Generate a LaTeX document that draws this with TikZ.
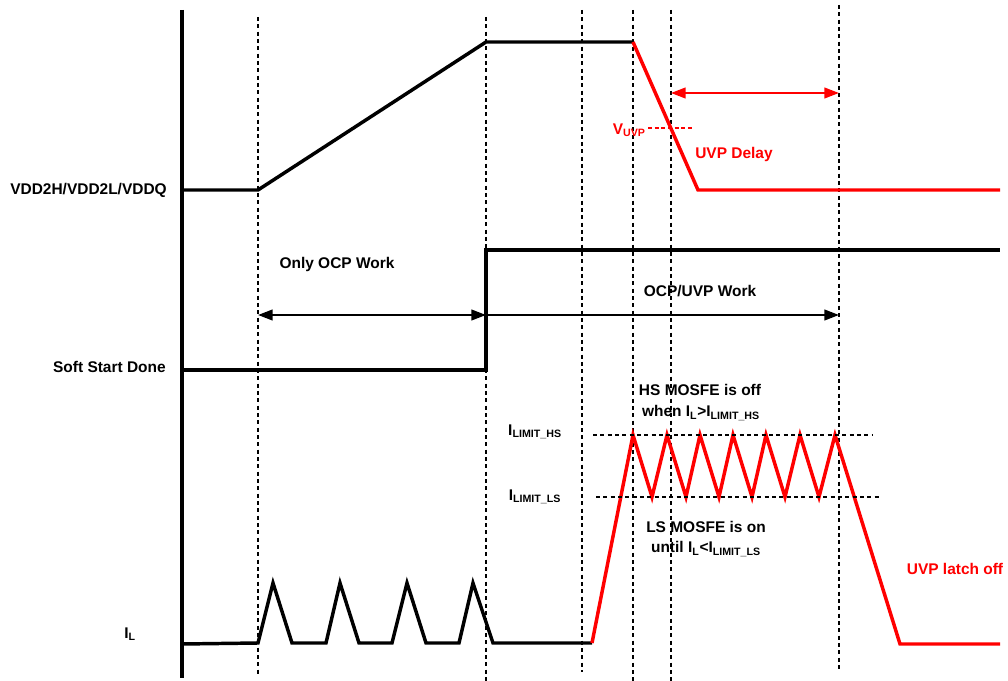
\documentclass[tikz,border=0pt]{standalone}
\usepackage{fontspec}
\setmainfont{Liberation Sans}
\usetikzlibrary{arrows.meta}
\begin{document}
\begin{tikzpicture}[x=0.75pt,y=-0.75pt,
  sig/.style={line width=2.6pt,line join=miter},
  redsig/.style={line width=2.6pt,red,line join=miter},
  guide/.style={line width=1.8pt,dash pattern=on 3pt off 2.5pt},
  lbl/.style={font=\bfseries\fontsize{11.6}{13}\selectfont,inner sep=0pt},
  rlbl/.style={lbl,text=red},
  dbl/.style={line width=1.6pt,{Triangle[length=11pt,width=8pt]}-{Triangle[length=11pt,width=8pt]}}]
\newcommand{\sbs}[1]{\textsubscript{\fontsize{8}{9}\selectfont #1}}
\useasboundingbox (0,0) rectangle (1008,681);
% axis
\draw[line width=2.6pt] (182,10) -- (182,678);
% guides
\draw[guide] (258,17) -- (258,674);
\draw[guide] (486,17) -- (486,681);
\draw[guide] (582,10) -- (582,672);
\draw[guide] (633,10) -- (633,681);
\draw[guide] (671,10) -- (671,681);
\draw[guide] (839,5) -- (839,672);
% VDD waveform
\coordinate (v0) at (182,190);
\coordinate (v1) at (258,190);
\coordinate (v2) at (486,42);
\coordinate (v3) at (633,42);
\coordinate (v4) at (698,190);
\coordinate (v5) at (1000,190);
\draw[sig] (v0) -- (v1) -- (v2) -- (v3);
\draw[redsig] (v3) -- (v4) -- (v5);
% VUVP
\coordinate (u0) at (648,128);
\coordinate (u1) at (692,128);
\draw[red,line width=1.6pt,dash pattern=on 3pt off 2pt] (u0) -- (u1);
\node[rlbl,anchor=east] (vuvp) at (646,130) {V\sbs{UVP}};
\coordinate (d0) at (671,93);
\coordinate (d1) at (839,93);
\draw[dbl,red] (d0) -- (d1);
\node[rlbl,anchor=west] (uvpd) at (695,155) {UVP Delay};
% Soft start
\coordinate (s0) at (182,370);
\coordinate (s1) at (486,370);
\coordinate (s2) at (486,250);
\coordinate (s3) at (1000,250);
\draw[sig] (s0) -- (s1) -- (s2) -- (s3);
\node[lbl] (ocp) at (337,265) {Only OCP Work};
\node[lbl] (ocpuvp) at (700,291) {OCP/UVP Work};
\coordinate (a0) at (258,315);
\coordinate (a1) at (486,315);
\coordinate (a2) at (839,315);
\draw[dbl] (a0) -- (a1);
\draw[line width=1.6pt,-{Triangle[length=11pt,width=8pt]}] (a1) -- (a2);
% labels left
\node[lbl,anchor=east] (vdd) at (167,190) {VDD2H/VDD2L/VDDQ};
\node[lbl,anchor=east] (ssd) at (166,367) {Soft Start Done};
\node[lbl] (il) at (130,634) {I\sbs{L}};
% IL waveform black
\draw[sig] (182,644) -- (258,643) -- (273,583) -- (292,643) -- (326,643) -- (340,583) -- (359,643)
  -- (392,643) -- (407,583) -- (426,643) -- (459,643) -- (473,583) -- (493,643) -- (592,643);
% IL red
\draw[redsig] (592,643) -- (633,435) -- (652,497) -- (667,435) -- (686,497) -- (700,435)
  -- (719,497) -- (733,435) -- (752,497) -- (766,435) -- (785,497) -- (800,435)
  -- (819,497) -- (835,435) -- (900,644) -- (1000,644);
% limits
\draw[guide] (593,435) -- (872,435);
\draw[guide] (596,497) -- (880,497);
\node[lbl] (ihs) at (535,432) {I\sbs{LIMIT\_HS}};
\node[lbl] (ils) at (535,497) {I\sbs{LIMIT\_LS}};
\node[lbl] (hs1) at (700,390) {HS MOSFE is off};
\node[lbl] (hs2) at (701,413) {when I\sbs{L}>I\sbs{LIMIT\_HS}};
\node[lbl] (ls1) at (706,527) {LS MOSFE is on};
\node[lbl] (ls2) at (706,549) {until I\sbs{L}<I\sbs{LIMIT\_LS}};
\node[rlbl] (latch) at (955,569) {UVP latch off};
\end{tikzpicture}
\end{document}
